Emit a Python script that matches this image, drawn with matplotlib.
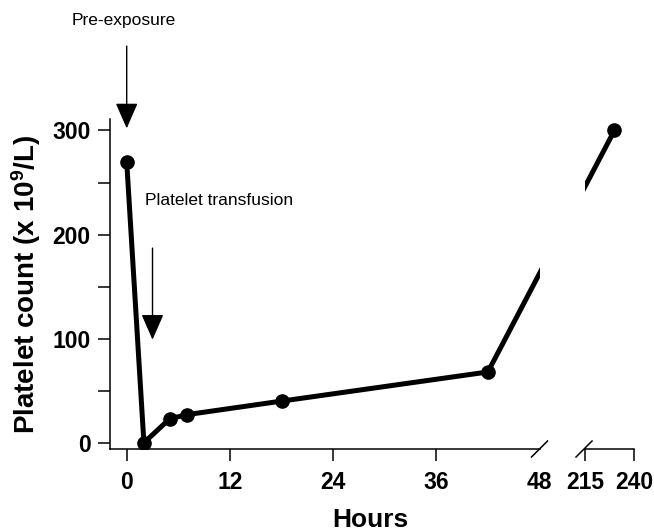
import numpy as np
import matplotlib
matplotlib.use("Agg")
import matplotlib.pyplot as plt

plt.rcParams['font.family'] = ['Liberation Sans', 'DejaVu Sans']
plt.rcParams['font.weight'] = 'bold'
plt.rcParams['mathtext.fontset'] = 'custom'
plt.rcParams['mathtext.rm'] = 'Liberation Sans:bold'
plt.rcParams['mathtext.it'] = 'Liberation Sans:bold'
plt.rcParams['mathtext.bf'] = 'Liberation Sans:bold'

# platelet count (x 10^9/L) against hours after exposure
hours = [0, 2, 5, 7, 18, 42, 230]
platelets = [270, 0, 23, 27, 40, 68, 300]

# broken x axis: early window + late window
early_xlim = (-2, 48)
late_xlim = (215, 240)
early_ticks = [0, 12, 24, 36, 48]
late_ticks = [215, 240]
y_ticks = [0, 50, 100, 150, 200, 250, 300]
y_ticklabels = ['0', '', '100', '', '200', '', '300']
y_lim = (-6, 311)

# annotated events (hour of event)
event_labels = ['Pre-exposure', 'Platelet transfusion']
event_hours = [0, 3]

W, H = 654, 532
fig = plt.figure(figsize=(W / 100, H / 100), dpi=100)


def px_axes(left, top, right, bottom):
    # axes placed by pixel box (origin top-left)
    return fig.add_axes([left / W, 1 - bottom / H, (right - left) / W, (bottom - top) / H])


ax1 = px_axes(109.5, 119, 539.5, 449)
ax2 = px_axes(585, 119, 634, 449)

for ax in (ax1, ax2):
    ax.set_ylim(*y_lim)
    ax.spines['top'].set_visible(False)
    ax.spines['right'].set_visible(False)
    for s in ax.spines.values():
        s.set_linewidth(1.1)
    ax.tick_params(direction='out', length=8.6, width=1.1, labelsize=16.5, pad=5)
    ax.tick_params(axis='x', pad=7.5)
    ax.patch.set_visible(False)

ax1.set_xlim(*early_xlim)
ax1.set_xticks(early_ticks)
ax1.set_xticklabels([str(t) for t in early_ticks])
ax1.xaxis.get_major_ticks()[-1].tick1line.set_visible(False)
ax1.set_yticks(y_ticks)
ax1.set_yticklabels(y_ticklabels)

ax2.set_xlim(*late_xlim)
ax2.set_xticks(late_ticks)
ax2.set_xticklabels([str(t) for t in late_ticks])
ax2.spines['left'].set_visible(False)
ax2.set_yticks([])

# data split across the break
h = np.array(hours)
p = np.array(platelets)
left = h <= early_xlim[1]
right = h >= late_xlim[0]

# the segment crossing the gap is a straight line on screen
last_left = (h[left][-1], p[left][-1])
first_right = (h[right][0], p[right][0])
bx1, by1 = ax1.transData.inverted().transform(ax2.transData.transform(first_right))
bx2, by2 = ax2.transData.inverted().transform(ax1.transData.transform(last_left))

line_kw = dict(color='black', lw=3.6, solid_joinstyle='round')
ax1.plot(list(h[left]) + [bx1], list(p[left]) + [by1], **line_kw)
ax1.plot(h[left], p[left], 'o', ms=9.5, color='black')
ax2.plot([bx2] + list(h[right]), [by2] + list(p[right]), **line_kw)
ax2.plot(h[right], p[right], 'o', ms=9.5, color='black', clip_on=False)

# break marks on the x axis
d1x, d1y = 8 / 430, 8 / 330
ax1.plot([1 - d1x, 1 + d1x], [-d1y, d1y], transform=ax1.transAxes,
         color='black', lw=1.1, clip_on=False)
d2x = 8 / 49
ax2.plot([-0.02 - d2x, -0.02 + d2x], [-d1y, d1y], transform=ax2.transAxes,
         color='black', lw=1.1, clip_on=False)

# event arrows
arrow = dict(arrowstyle='-|>,head_length=1.6,head_width=0.7', mutation_scale=10,
             lw=1, color='black', shrinkA=0, shrinkB=0)
ax1.annotate('', xy=(event_hours[0], 302), xytext=(event_hours[0], 381),
             arrowprops=arrow, annotation_clip=False)
ax1.text(event_hours[0] - 0.3, 406, event_labels[0], ha='center', va='center',
         fontsize=12.5, fontweight='normal')
ax1.annotate('', xy=(event_hours[1], 99), xytext=(event_hours[1], 187),
             arrowprops=arrow, annotation_clip=False)
ax1.text(event_hours[1] - 0.85, 233, event_labels[1], ha='left', va='center',
         fontsize=12.5, fontweight='normal')

fig.text(26 / W, 1 - 284.5 / H, 'Platelet count (x 10$^{9}$/L)', rotation=90,
         ha='center', va='center', fontsize=20, fontweight='bold')
fig.text(370 / W, 1 - 520 / H, 'Hours', ha='center', va='center',
         fontsize=19, fontweight='bold')

fig.savefig('out.png', dpi=100)
